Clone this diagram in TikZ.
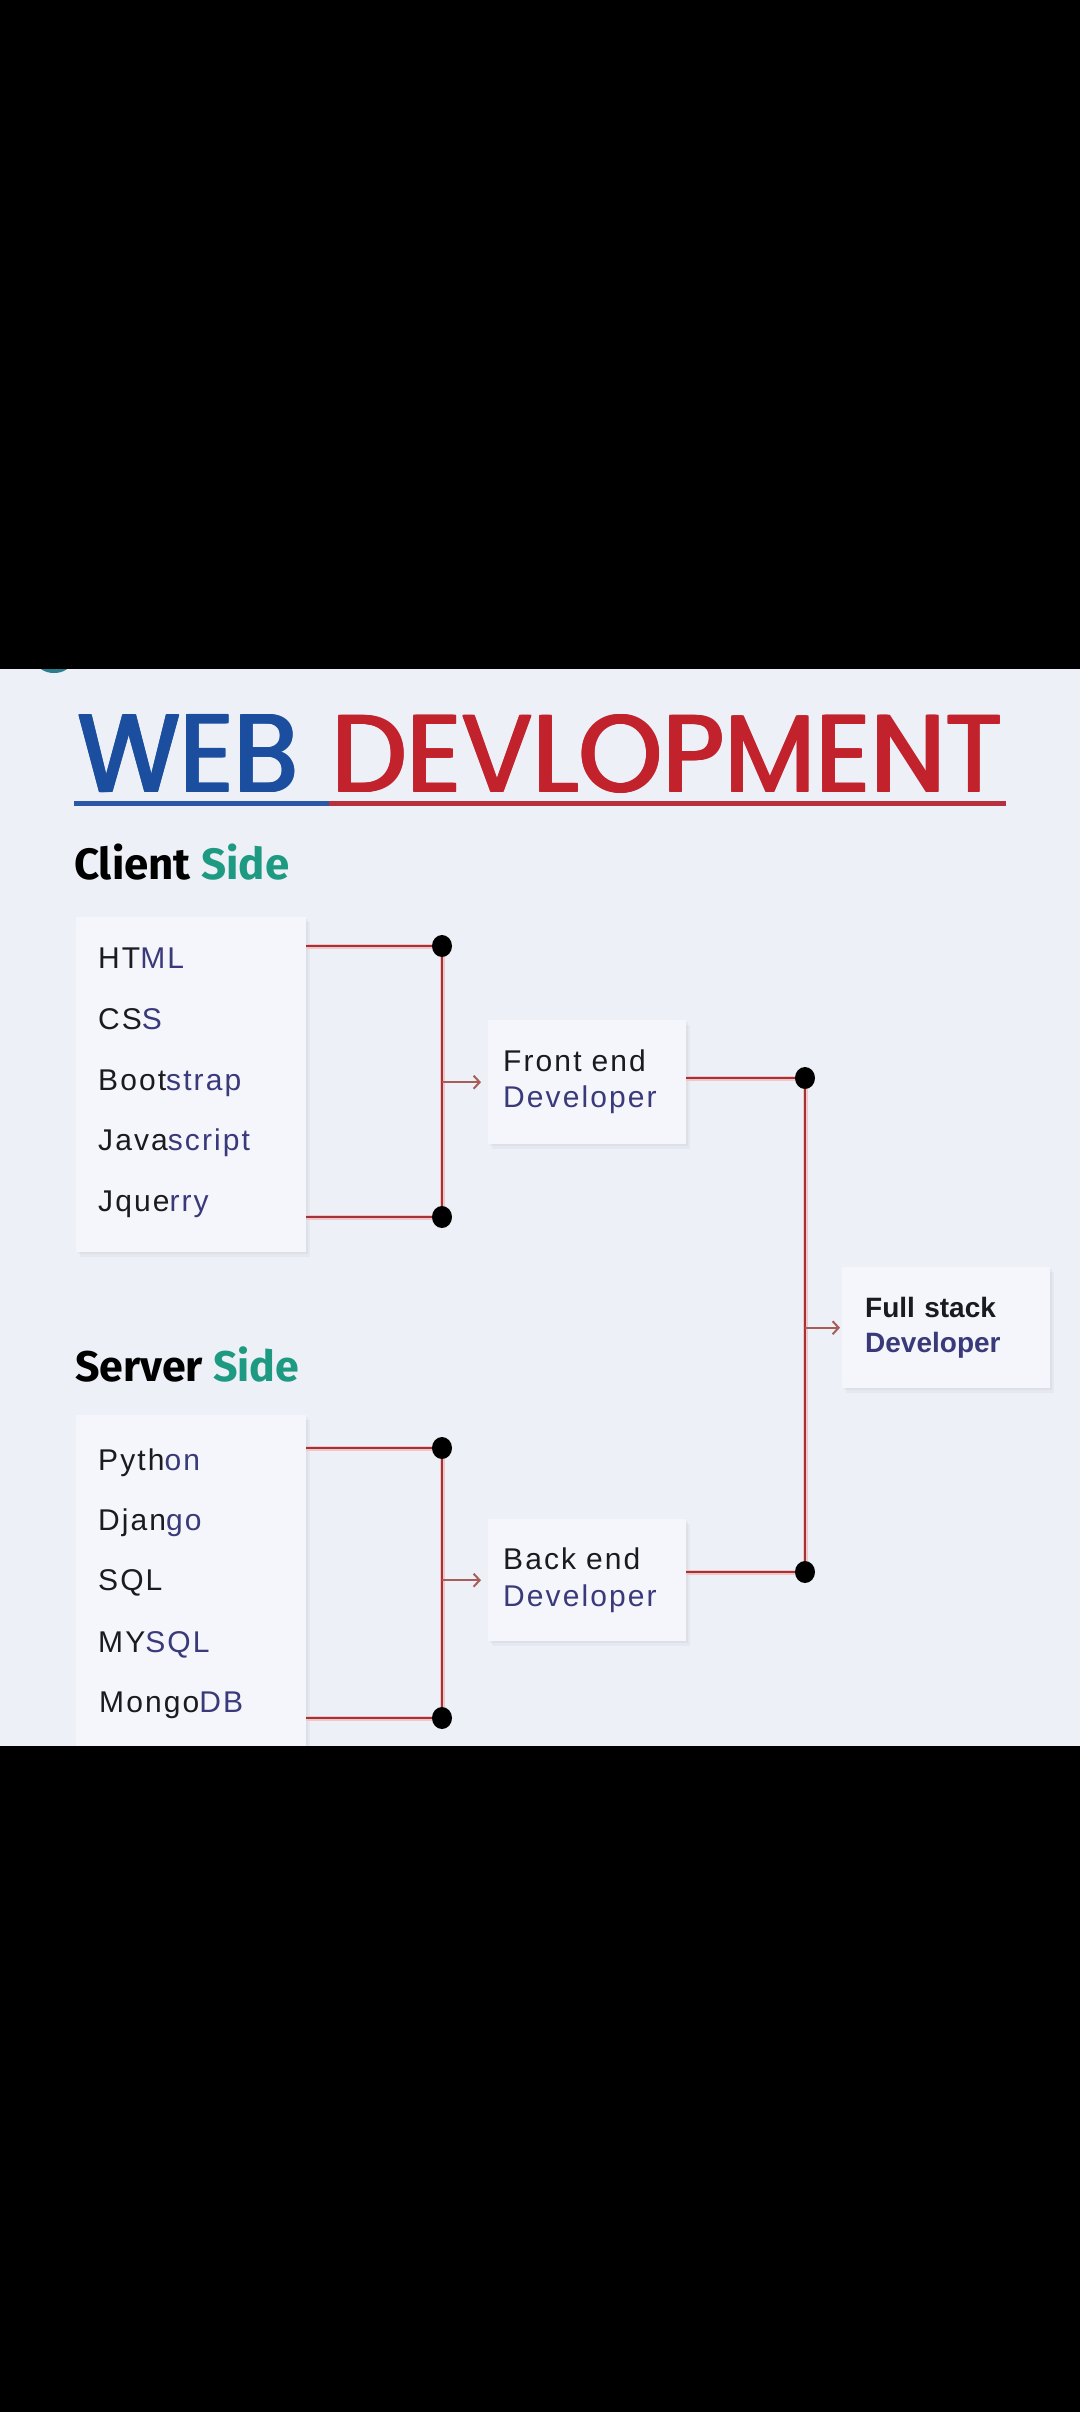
\documentclass[tikz,border=0pt]{standalone}
\usepackage{fontspec}
\setmainfont{Liberation Sans}
\newfontfamily\titlefont{Poppins}
\newfontfamily\headfont{Fira Sans}
\newfontfamily\itemfont{Liberation Sans}[LetterSpace=7]
\newfontfamily\fsfont{Liberation Sans}
\usetikzlibrary{arrows.meta,shadows}
\definecolor{bgc}{HTML}{EDF0F7}
\definecolor{boxc}{HTML}{F4F6FB}
\definecolor{webblue}{HTML}{1B4E9E}
\definecolor{webred}{HTML}{C2222C}
\definecolor{ulblue}{HTML}{2A58A6}
\definecolor{ulred}{HTML}{B8303E}
\definecolor{sideteal}{HTML}{1F9A82}
\definecolor{itemblue}{HTML}{3A3A7A}
\definecolor{itemblack}{HTML}{1A1A1F}
\definecolor{linered}{HTML}{A23438}
\definecolor{linehalo}{HTML}{F2C6C6}
\definecolor{arrowc}{HTML}{A85E58}
\definecolor{blobc}{HTML}{2A7D8C}
\newcommand\blu[1]{{\color{itemblue}#1}}
\tikzset{
  softshadow/.style={drop shadow={opacity=0.07, shadow xshift=2pt, shadow yshift=-2pt},
    drop shadow={opacity=0.07, shadow xshift=4pt, shadow yshift=-5pt}},
  listbox/.style={draw=none, fill=boxc, inner sep=0, anchor=north west, softshadow},
  devbox/.style={draw=none, fill=boxc, anchor=north west, align=left, softshadow},
  itemtxt/.style={anchor=base west, inner sep=0, font=\itemfont\fontsize{30}{36}\selectfont, text=itemblack},
  titletxt/.style={anchor=south west, inner sep=0},
  halo/.style={draw=linehalo, line width=5pt},
  redl/.style={draw=linered, line width=2.4pt},
  arr/.style={draw=arrowc, line width=2pt, -{Straight Barb[length=6pt,width=13pt]}},
  dotc/.style={fill=black},
}
\begin{document}
\begin{tikzpicture}[x=1pt,y=-1pt]
\useasboundingbox (0,0) rectangle (1080,2412);
\fill[bgc] (0,660) rectangle (1080,1750);

% title (regular weight thickened by overprinting)
\foreach \dx/\dy in {0/0,1.4/0,2.8/0,0/1.2,1.4/1.2,2.8/1.2}{
  \node[titletxt] at (76+\dx,792+\dy) {\resizebox{221pt}{77pt}{\titlefont\color{webblue}WEB}};
  \node[titletxt] at (330+\dx,792+\dy) {\resizebox{671pt}{77pt}{\titlefont\color{webred}DEVLOPMENT}};
}
\node[titletxt] (tw) at (77,793) {\resizebox{221pt}{77pt}{\titlefont\color{webblue}WEB}};
\node[titletxt] (td) at (331,793) {\resizebox{671pt}{77pt}{\titlefont\color{webred}DEVLOPMENT}};
\draw[ulblue, line width=5pt] (74,803) -- (329,803);
\draw[ulred, line width=5pt] (329,803) -- (1006,803);

% headings
\node[anchor=base west, inner sep=0] (chead) at (74,879) {\resizebox{215pt}{!}{\headfont\bfseries Client {\color{sideteal}Side}}};
\node[anchor=base west, inner sep=0] (shead) at (75,1381) {\resizebox{224pt}{!}{\headfont\bfseries Server {\color{sideteal}Side}}};

% list boxes
\node[listbox, minimum width=230, minimum height=335] (cbox) at (76,917) {};
\node[listbox, minimum width=230, minimum height=345] (sbox) at (76,1415) {};

\node[itemtxt] (i1) at (98,968) {HT\blu{ML}};
\node[itemtxt] (i2) at (98,1029) {CS\blu{S}};
\node[itemtxt] (i3) at (98,1090) {Boot\blu{strap}};
\node[itemtxt] (i4) at (98,1150) {Java\blu{script}};
\node[itemtxt] (i5) at (98,1211) {Jque\blu{rry}};

\node[itemtxt] (j1) at (98,1470) {Pyth\blu{on}};
\node[itemtxt] (j2) at (98,1530) {Djan\blu{go}};
\node[itemtxt] (j3) at (98,1590) {SQL};
\node[itemtxt] (j4) at (98,1652) {MY\blu{SQL}};
\node[itemtxt] (j5) at (99,1712) {Mongo\blu{DB}};

% developer boxes
\node[devbox, minimum width=198, minimum height=124, inner xsep=15pt, text width=168pt,
      font=\itemfont\fontsize{30}{36}\selectfont, text=itemblack] (fe) at (488,1020)
      {Front end\\\blu{Developer}};
\node[devbox, minimum width=198, minimum height=122, inner xsep=15pt, text width=168pt,
      font=\itemfont\fontsize{30}{37}\selectfont, text=itemblack] (be) at (488,1519)
      {Back end\\\blu{Developer}};
\node[devbox, minimum width=208, minimum height=121, inner xsep=23pt, text width=162pt,
      font=\fsfont\bfseries\fontsize{28}{35}\selectfont, text=itemblack] (fs) at (842,1267)
      {Full stack\\\blu{Developer}};

% connectors
\coordinate (c1) at (442,946);
\coordinate (c2) at (442,1217);
\coordinate (s1) at (442,1448);
\coordinate (s2) at (442,1718);
\coordinate (f1) at (805,1078);
\coordinate (f2) at (805,1572);

\foreach \st in {halo,redl}{
  \draw[\st] (cbox.east |- c1) -- (c1) -- (c2) -- (cbox.east |- c2);
  \draw[\st] (sbox.east |- s1) -- (s1) -- (s2) -- (sbox.east |- s2);
  \draw[\st] (fe.east |- f1) -- (f1) -- (f2) -- (be.east |- f2);
}
\draw[arr, shorten >=7pt] (c1 |- fe.west) -- (fe.west);
\draw[arr, shorten >=7pt] (s1 |- be.west) -- (be.west);
\draw[arr, shorten >=2pt] (f1 |- fs.west) -- (fs.west);

\foreach \p in {c1,c2,s1,s2,f1,f2}{\fill[dotc] (\p) ellipse [x radius=10, y radius=11];}

% black bands
\fill[black] (0,0) rectangle (1080,669);
\fill[black] (0,1746) rectangle (1080,2412);
\begin{scope}
\clip (0,669) rectangle (1080,700);
\fill[blobc] (54,662) ellipse [x radius=17, y radius=11];
\end{scope}
\end{tikzpicture}
\end{document}
